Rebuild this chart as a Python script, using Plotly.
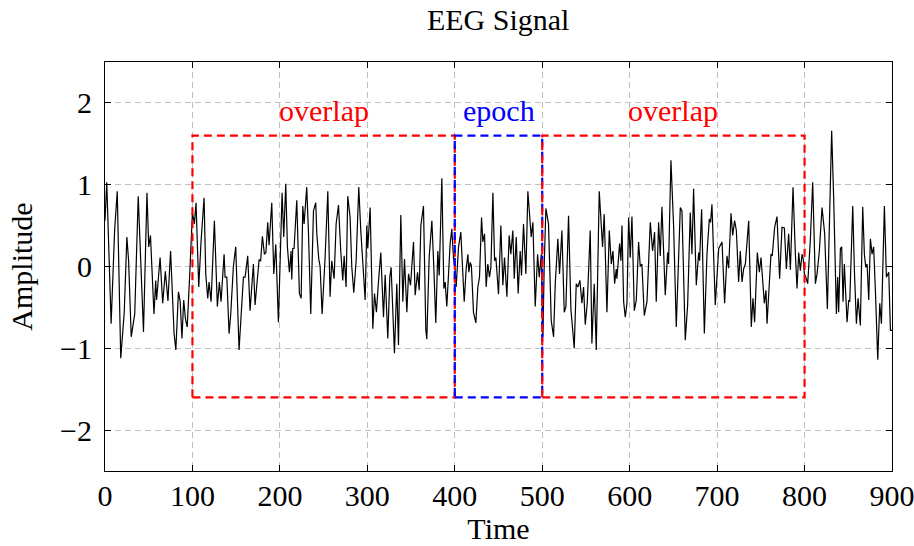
import plotly.graph_objects as go

# ---- data ----
time = [0, 2, 7, 11, 14, 18, 22, 25, 27, 30, 34, 38, 44, 48, 50, 52, 56, 58, 59, 61, 63, 66, 69, 72, 75, 79, 81, 84, 86, 88, 90, 92, 94, 97, 100,
        102.2, 104.1, 107.2, 109.8, 113.3, 115.2, 117.5, 119, 121.3, 125.1, 128.5, 130.8, 132.7, 136.2, 137.3, 139.3, 141.9, 143.8, 146.8, 149.5,
        153.3, 158.3, 160.2, 163.2, 165.9, 169.7, 171.6, 173.5, 176.2, 178, 180, 182.3, 184, 186.1, 187.6, 190.7, 193, 195.3, 198.3,
        202.5, 204.4, 206.7, 208.6, 210.9, 212.8, 213.6, 214.7, 216.2, 219.3, 222.3, 224.3, 226.2, 227.7, 230.7, 232.6, 235.3, 238.4, 241,
        242.2, 244.5, 246, 248.3, 251.7, 254.8, 257.4, 259.3, 262, 264.3, 267, 269.6, 271.9, 273.5, 275.7, 277.6, 280.3, 282.2, 284.5, 287.2,
        290.2, 292.5, 297.5,
        299.4, 300.5, 303.2, 306.3, 308.2, 310.4, 312.7, 315.4, 318.5, 320.4, 323.4, 325.7, 327.2, 328.8, 331, 333.7, 335.6, 338.3, 340.6,
        342.5, 345.2, 347.1, 349.4, 352.8, 354.7, 357.4, 359.3, 361.2, 364.2, 366.9, 368, 370.7, 373.8, 376, 378.3, 380.6, 382.2, 385.2,
        387.5, 389, 390.9, 394.7,
        396.6, 398.5, 400.5, 401.6, 404.3, 406.9, 410.8, 413, 415, 416.1, 417.6, 419, 421.4, 424.1, 426.4, 428.3, 430.6, 432.1, 434, 435.9,
        437.8, 439.7, 441.3, 443.6, 445.5, 447, 450, 452.7, 455, 456.9, 459.6, 462.2, 464.1, 466.4, 468, 470.3, 472.5, 474.8, 476.3, 478.6,
        481.3, 483.6, 485.5, 487.4, 489.3, 492,
        494.7, 496.6, 498.9, 500.8, 502.3, 504.2, 507.2, 510.3, 513, 514.9, 517.9, 519.8, 522.5, 525.2, 527.1, 530.1, 532.8, 536.6, 538.9,
        540.8, 543.1, 545.4, 547.3, 549.2, 551.5, 554.9, 556.8, 559.5, 561.8, 565.2, 569, 570.9, 574, 576.7, 579, 580.9, 582.8, 584.7, 585.4,
        588.5, 590, 591.2, 593.1, 595, 596.9, 598.8, 600.7, 602.6, 605.3, 607.6, 610.2, 612.1, 614, 616.7, 619.8, 623.6, 626.2, 628.5, 630.4,
        633.1, 635, 636.9, 640.7, 643.4, 644.5, 647.2, 650.3, 653.3, 657.9, 659.8, 663.6, 666.3, 669.3, 671.2, 673.1, 676.2, 678.9, 680,
        682.3, 685.4,
        688.4, 691.1, 692.5, 694.1, 697.9, 699.8, 701.8, 705.6, 708.6, 711.3, 713.2, 715.9, 717.8, 720, 722, 724.6, 726.5, 728.5, 730.3,
        732.3, 734.2, 736.1, 739.1, 741, 742.9, 746, 748.3, 750.2, 754, 755.9, 757.1, 759.7, 761.6, 763, 765.8, 768.5, 770.4, 771.5, 774.2,
        776.9, 779.2, 781.8, 783.8, 786.8, 789.5, 791.4, 793.3, 795.2, 797.1, 798.5, 799.8, 801.5, 803.6, 806.6, 809.3, 812.4, 814.3, 816.9,
        820, 821.9, 823, 826.1, 828.4, 831, 833.3, 836.4, 837.9, 839, 841, 842.5, 844, 845.5, 848.6, 850.5, 851.7, 855.1, 857, 859.3, 861.2,
        863.8, 866.5, 868.4, 870, 871.5, 873.4, 875.3, 877.2, 879, 881, 883.7, 886, 887.9, 891.3, 893.6, 896.3, 898.2, 900]

amplitude = [0.56, 1.03, -0.70, 0.44, 0.92, -1.12, -0.56, 0.36, 0.07, -0.86, -0.58, 0.86, -0.80, 0.90, 0.24, 0.38, -0.58, -0.17, -0.41,
             -0.15, 0.11, -0.45, -0.06, -0.42, 0.19, -0.82, -1.02, -0.31, -0.43, -0.88, -0.41, -0.64, -0.74, -0.07, 0.66,
             0.52, 0.78, -0.25, 0.30, 0.84, -0.09, -0.39, -0.19, -0.43, 0.56, -0.49, -0.19, -0.43, 0.15, -0.13, -0.13, -0.82, -0.58, 0.0, 0.24,
             -1.02, -0.13, -0.13, 0.13, -0.54, 0.03, -0.47, -0.19, 0.08, 0.07, 0.37, 0.15, 0.17, 0.54, 0.26, 0.78, -0.09, 0.27, -0.68,
             0.90, 0.36, 1.01, 0.24, -0.07, 0.19, -0.16, 0.22, 0.22, 0.81, -0.33, -0.39, 0.74, 0.52, 0.97, 0.44, -0.58, 0.68, 0.78,
             0.40, 0.09, 0.0, -0.58, 0.11, 0.92, -0.37, 0.07, -0.15, 0.52, 0.75, 0.19, -0.17, 0.13, -0.25, 0.86, 0.60, 0.0, -0.32, 0.07,
             0.97, 0.44, -0.41,
             0.50, 0.22, 0.72, -0.76, -0.33, -0.56, -0.19, 0.17, -0.62, -0.10, -0.88, -0.13, -0.01, -0.49, -1.06, -0.21, -0.96, 0.63, -0.43,
             0.09, -0.56, -0.09, -0.23, 0.30, -0.35, -0.07, -0.29, 0.50, 0.74, -0.78, -0.89, 0.11, 0.56, 0.0, -0.69, 0.19, -0.11, 1.08,
             -0.27, -0.19, -0.49, 0.28,
             0.46, 0.11, -0.05, -0.25, 0.24, 0.42, -0.43, -0.03, 0.15, -0.07, 0.05, 0.01, -0.56, -0.69, -0.25, -0.13, 0.60, 0.30, 0.40, -0.25,
             0.03, -0.13, -0.01, 0.90, 0.07, 0.11, -0.34, 0.50, -0.23, 0.11, -0.37, 0.38, 0.15, 0.44, -0.15, 0.36, -0.33, 0.19, -0.11, 0.52,
             -0.09, 0.92, 0.60, 0.36, 0.54, -0.49,
             0.15, -0.13, 0.15, -0.86, 0.03, 0.71, 0.52, -0.66, -0.86, -0.21, 0.34, -0.09, 0.44, -0.56, -0.49, 0.62, -0.52, -1.00, -0.21,
             -0.25, -0.17, -0.45, -0.25, -0.71, -0.45, 0.44, -0.94, -0.21, -1.02, 0.92, 0.24, 0.64, -0.56, 0.44, 0.03, 0.19, -0.21, -0.03, -0.15,
             0.28, 0.07, 0.50, -0.43, -0.62, -0.45, 0.60, 0.11, 0.61, -0.54, -0.41, 0.30, 0.0, 0.03, -0.60, -0.43, 0.54, 0.19, 0.42, -0.43,
             0.54, 0.13, 0.73, -0.35, 0.17, 0.03, 1.30, 0.48, -0.74, 0.72, 0.68, -0.90, -0.47, 0.66, 0.15, 0.95, -0.23, 0.17, 0.07,
             0.70, -0.82,
             0.15, 0.58, 0.54, 0.76, -0.47, -0.17, 0.22, 0.30, -0.45, 0.13, -0.02, 0.65, 0.38, 0.56, 0.44, -0.19, 0.19, -0.19, -0.03,
             0.03, 0.34, 0.56, -0.74, -0.39, -0.68, 0.17, -0.07, 0.11, -0.45, -0.29, -0.70, -0.15, 0.15, 0.13, 0.48, 0.61, 0.19, -0.15, 0.48,
             0.47, -0.03, 0.40, -0.04, 0.97, 0.15, -0.27, 0.17, -0.05, 0.15, 0.09, -0.09, -0.13, -0.21, 0.32, 1.03, -0.21, -0.09, 0.19,
             0.72, 0.48, 0.40, -0.52, 0.60, 1.66, 0.84, -0.58, -0.13, -0.56, 0.22, 0.24, -0.43, 0.03, -0.68, -0.41, -0.43, 0.74, -0.05, -0.70, -0.39,
             -0.72, 0.73, 0.15, -0.01, 0.03, -0.41, 0.34, 0.15, 0.24, -0.29, -1.14, -0.45, -0.70, 0.74, -0.13, -0.07, -0.78, -0.78]

x_ticks = [0, 100, 200, 300, 400, 500, 600, 700, 800, 900]
y_ticks = [-2, -1, 0, 1, 2]
y_tick_labels = ["\u22122", "\u22121", "0", "1", "2"]

window_starts = [100, 400, 500]
window_ends = [400, 500, 800]
window_labels = ["overlap", "epoch", "overlap"]
window_colors = ["#ff0000", "#0000ff", "#ff0000"]
window_half_height = 1.6

FONT = "Liberation Serif"
FS = 30

fig = go.Figure()
fig.add_trace(go.Scatter(x=time, y=amplitude, mode="lines",
                         line=dict(color="black", width=1.2), showlegend=False,
                         hoverinfo="skip"))

for x0, x1, lab, col in zip(window_starts, window_ends, window_labels, window_colors):
    fig.add_shape(type="rect", xref="x", yref="y", x0=x0, x1=x1,
                  y0=-window_half_height, y1=window_half_height,
                  line=dict(color=col, width=2.2, dash="8px,5px"),
                  fillcolor="rgba(0,0,0,0)", layer="above")
    fig.add_annotation(x=(x0 + x1) / 2, y=window_half_height, xref="x", yref="y",
                       text=lab, showarrow=False, yanchor="middle", yshift=25,
                       font=dict(family=FONT, size=FS, color=col))

axis_common = dict(showline=True, linecolor="black", linewidth=1.2, mirror="ticks",
                   ticks="inside", ticklen=6, tickcolor="black", tickwidth=1,
                   showgrid=True, gridcolor="#c0c0c0", gridwidth=1, griddash="6px,4px",
                   zeroline=False, automargin=False, ticklabeloverflow="allow",
                   tickfont=dict(family=FONT, size=FS, color="black"))

fig.update_xaxes(range=[0, 900], tickvals=x_ticks, ticktext=[str(v) for v in x_ticks],
                 title=dict(text="Time", font=dict(family=FONT, size=FS, color="black"), standoff=4),
                 ticklabelstandoff=-2, **axis_common)
fig.update_yaxes(range=[-2.5, 2.5], tickvals=y_ticks, ticktext=y_tick_labels,
                 title=dict(text="Amplitude", font=dict(family=FONT, size=FS, color="black"), standoff=18),
                 ticklabelstandoff=6, **axis_common)

fig.update_layout(
    width=914, height=546,
    margin=dict(l=105, r=22, t=62, b=75),
    paper_bgcolor="white", plot_bgcolor="white",
    title=dict(text="EEG Signal", x=0.545, xanchor="center", y=0.965, yanchor="middle",
               font=dict(family=FONT, size=FS, color="black")),
    showlegend=False,
)

fig.write_html("out.html", config={"displayModeBar": False},
               post_script="document.body.style.margin='0';document.body.style.overflow='hidden';")
